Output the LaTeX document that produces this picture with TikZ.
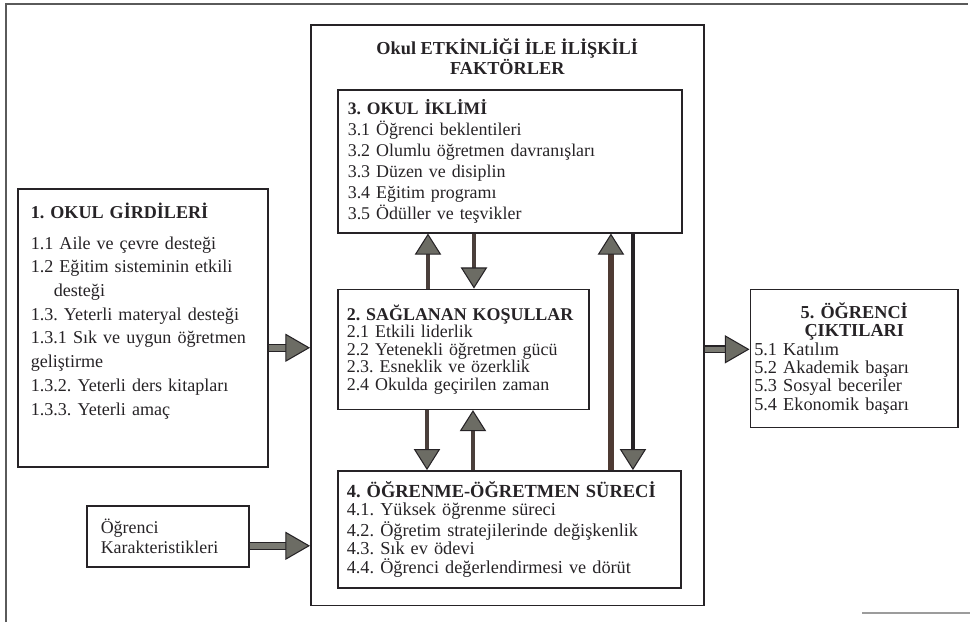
\documentclass[tikz,border=0pt]{standalone}
\usepackage{fontspec}
\setmainfont{Liberation Serif}
\usetikzlibrary{arrows.meta, positioning}
\definecolor{inkgray}{HTML}{262326}
\definecolor{shaftbrown}{HTML}{4A3F3B}
\definecolor{rustbrown}{HTML}{4E3A33}
\definecolor{headgray}{HTML}{6C6C64}
\definecolor{pipegray}{HTML}{7A7A72}
\definecolor{rulegray}{HTML}{5A5A5A}
\frenchspacing

\begin{document}
\begin{tikzpicture}[x=0.02cm, y=-0.02cm, node distance=1.1cm]
% Define styles
\tikzstyle{panel} = [rectangle, draw=inkgray, line width=0.9pt, text=inkgray, align=left, inner xsep=0.2cm, inner ysep=0.1cm, font=\fontsize{10}{12}\selectfont]
\tikzstyle{updown} = [line width=2.6pt, draw=shaftbrown, -{Triangle[width=15pt, length=12pt, fill=headgray, color=inkgray, line width=0.6pt]}]
\tikzstyle{sideway} = [line width=0.7pt, draw=inkgray, double=pipegray, double distance=3.2pt, -{Triangle[width=16pt, length=14pt, fill=headgray, color=inkgray, line width=0.6pt]}]
\newcommand{\panelhead}[2][10.2]{\mbox{\fontsize{#1}{12}\selectfont\bfseries #2}}

\useasboundingbox (0,0) rectangle (970,622);

% Page border
\draw[rulegray, line width=1.2pt] (6,622) -- (6,4) -- (968,4);
\draw[rulegray!60, line width=1pt] (862,613) -- (970,613);

% Nodes
\node (factors) [draw=inkgray, line width=0.9pt, minimum width=7.86cm, minimum height=11.62cm, anchor=north west, inner sep=0pt] at (310,24) {};
\node (title) [below=0.28cm of factors.north, inner sep=0pt, align=center, text=inkgray, font=\bfseries\fontsize{10.4}{10.3}\selectfont] {Okul ETKİNLİĞİ İLE İLİŞKİLİ\\FAKTÖRLER};

\node (climate) [panel, anchor=north west, text width=6.48cm, minimum height=2.86cm, font=\fontsize{10.2}{11.95}\selectfont] at (337,89)
  {\panelhead[10]{3. OKUL İKLİMİ}\\3.1 Öğrenci beklentileri\\3.2 Olumlu öğretmen davranışları\\3.3 Düzen ve disiplin\\3.4 Eğitim programı\\3.5 Ödüller ve teşvikler};
\node (conditions) [panel, below=1.1cm of climate.south west, anchor=north west, text width=4.66cm, inner xsep=0.18cm, minimum height=2.4cm, font=\fontsize{10.2}{10}\selectfont]
  {\panelhead{2. SAĞLANAN KOŞULLAR}\\2.1 Etkili liderlik\\2.2 Yetenekli öğretmen gücü\\2.3. Esneklik ve özerklik\\2.4 Okulda geçirilen zaman};
\node (process) [panel, below=1.2cm of conditions.south west, anchor=north west, text width=6.5cm, inner xsep=0.18cm, minimum height=2.34cm, font=\fontsize{10.4}{10.5}\selectfont]
  {\panelhead[10.5]{4. ÖĞRENME-ÖĞRETMEN SÜRECİ}\\4.1. Yüksek öğrenme süreci\\4.2. Öğretim stratejilerinde değişkenlik\\4.3. Sık ev ödevi\\4.4. Öğrenci değerlendirmesi ve dörüt};

\node (inputs) [panel, anchor=north west, text width=4.48cm, inner xsep=0.26cm, inner ysep=0.28cm, text height=0.31cm, text depth=4.69cm, font=\fontsize{10.3}{13.5}\selectfont] at (17,188)
  {\panelhead[10.3]{1. OKUL GİRDİLERİ}\\[0.14cm]1.1 Aile ve çevre desteği\\1.2 Eğitim sisteminin etkili\\\makebox[0.46cm][l]{}desteği\\1.3. Yeterli materyal desteği\\1.3.1 Sık ve uygun öğretmen\\geliştirme\\1.3.2. Yeterli ders kitapları\\1.3.3. Yeterli amaç};

\node (outcomes) [panel, anchor=north west, text width=4.0cm, inner xsep=0.08cm, minimum height=2.76cm, font=\fontsize{10.4}{10.5}\selectfont] at ([xshift=0.9cm]factors.east |- conditions.north)
  {{\centering\bfseries\fontsize{10.4}{10.5}\selectfont 5. ÖĞRENCİ\\ÇIKTILARI\par}5.1 Katılım\\5.2 Akademik başarı\\5.3 Sosyal beceriler\\5.4 Ekonomik başarı};

\node (traits) [panel, anchor=north west, text width=2.68cm, inner xsep=0.28cm, minimum height=1.22cm, font=\fontsize{10.2}{11.9}\selectfont] at (86,505)
  {Öğrenci\\Karakteristikleri};

% Arrows
\draw[updown] ([xshift=1.82cm]conditions.north west) -- ([xshift=1.82cm]conditions.north west |- climate.south);
\draw[updown] ([xshift=2.74cm]climate.south west) -- ([xshift=2.74cm]climate.south west |- conditions.north);
\draw[updown] ([xshift=1.8cm]conditions.south west) -- ([xshift=1.8cm]conditions.south west |- process.north);
\draw[updown] ([xshift=2.72cm]process.north west) -- ([xshift=2.72cm]process.north west |- conditions.south);
\draw[updown, draw=rustbrown, line width=3.2pt] ([xshift=5.48cm]process.north west) -- ([xshift=5.48cm]process.north west |- climate.south);
\draw[updown, draw=inkgray, line width=1.8pt] ([xshift=5.92cm]climate.south west) -- ([xshift=5.92cm]climate.south west |- process.north);

\draw[sideway] ([yshift=-0.4cm]inputs.east) -- ([yshift=-0.4cm]inputs.east -| factors.west);
\draw[sideway] ([yshift=-0.19cm]traits.east) -- ([yshift=-0.19cm]traits.east -| factors.west);
\draw[sideway] ([yshift=0.18cm]outcomes.west -| factors.east) -- ([yshift=0.18cm]outcomes.west);
\end{tikzpicture}
\end{document}
